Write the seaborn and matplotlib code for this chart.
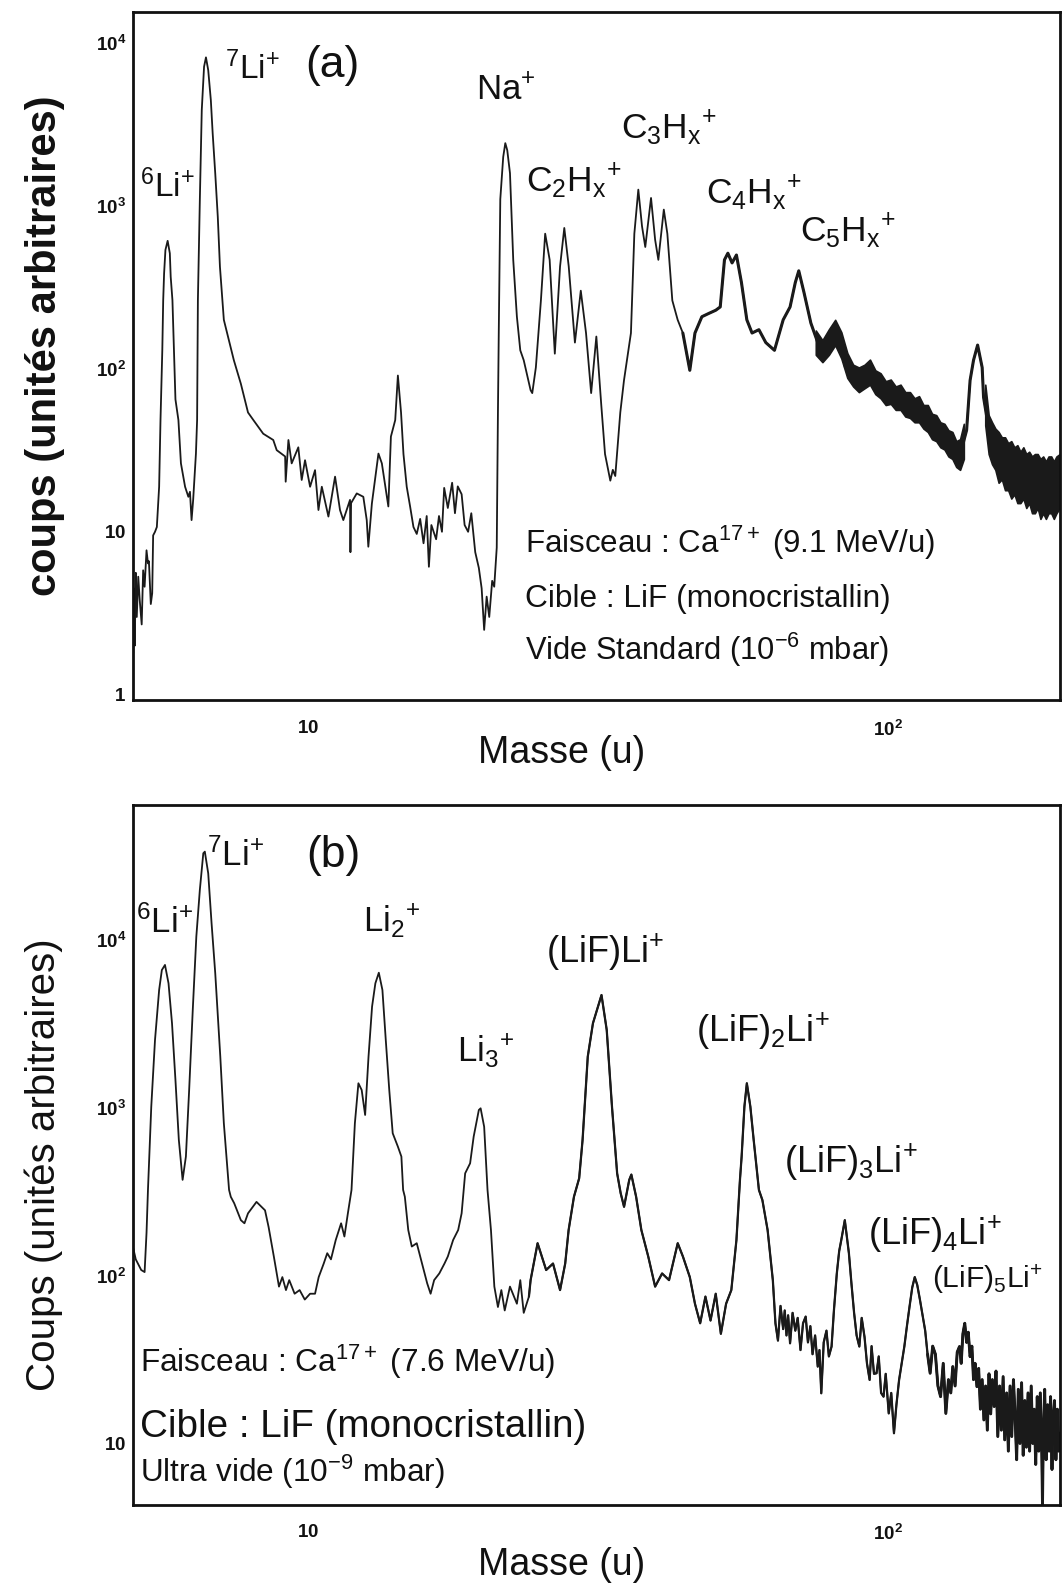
import numpy as np
import pandas as pd
import matplotlib
matplotlib.use("Agg")
import matplotlib.pyplot as plt
import seaborn as sns
from matplotlib.ticker import LogLocator, NullFormatter

# ---------------- data : panel (a) ----------------
mass_a = [4.99, 5.00, 5.02, 5.04, 5.06, 5.09, 5.12, 5.16, 5.19, 5.22, 5.26, 5.29, 5.31, 5.35, 5.38,
          5.40, 5.44, 5.48, 5.53, 5.56, 5.60, 5.62, 5.64, 5.67, 5.72, 5.77, 5.79, 5.83, 5.90, 5.97,
          6.03, 6.13, 6.21, 6.25, 6.29, 6.33, 6.40, 6.43, 6.45, 6.50, 6.55, 6.61, 6.66, 6.72, 6.79,
          6.84, 6.91, 6.98, 7.04, 7.11, 7.15, 7.44, 7.65, 7.87, 8.04, 8.36, 8.70, 8.82, 9.12, 9.14,
          9.24, 9.36, 9.61, 9.74, 9.87, 10.07, 10.27, 10.41, 10.55, 10.83, 11.12, 11.34, 11.49, 11.80,
          11.82, 11.85, 12.12, 12.44, 12.61, 12.69, 12.87, 13.03, 13.21, 13.39, 13.66, 13.74, 13.88,
          14.12, 14.27, 14.45, 14.59, 14.78, 14.98, 15.18, 15.38, 15.59, 15.8, 16.0, 16.14, 16.3,
          16.61, 16.8, 17.0, 17.15, 17.4, 17.7, 17.9, 18.1, 18.38, 18.6, 18.86, 19.1, 19.4, 19.68,
          19.9, 20.1, 20.3, 20.51, 20.75, 20.92, 21.13, 21.23, 21.30, 21.43, 21.68, 21.86, 22.03,
          22.27, 22.43, 22.56, 22.89, 23.20, 23.52, 24.17, 24.33, 24.68, 25.18, 25.61, 26.07, 26.61,
          27.17, 27.63, 28.12, 28.82, 29.50, 30.12, 30.74, 31.38, 32.0, 32.48, 33.17, 33.5, 33.83,
          34.51, 35.02, 36.0, 36.49, 37.07, 37.62, 38.11, 38.99, 39.63, 40.14, 41.02, 41.60, 42.43,
          43.34, 44.24, 45.48, 46.42, 47.71, 49.04, 50.41, 51.32, 52.19, 52.90, 53.79, 54.73, 55.83,
          57.04, 58.23, 59.84, 61.50, 63.65, 65.89, 67.72, 69.14, 70.10, 71.56, 73.55, 75.59, 78.25,
          81.0, 82.67, 84.4, 87.9, 92.8, 98.2, 102.3, 105.0, 114.2, 120.6, 127.4, 132.8, 136.5,
          138.4, 140.3, 142.6, 145.2, 146.0, 150.2, 158.8, 169.9, 182.1, 197.6]
counts_a = [1.8, 4.5, 2.0, 5.6, 3.0, 5.3, 3.8, 2.7, 5.8, 4.6, 7.7, 6.4, 6.6, 3.6, 4.2,
            9.5, 10.0, 10.7, 18.9, 48.5, 130, 264, 385, 537, 611, 512, 367, 264, 65, 48.5,
            26.3, 18.9, 16.4, 17.6, 11.8, 15.7, 30.2, 48.5, 264, 1087, 3880, 7160, 8170, 6820, 4470,
            2790, 1585, 859, 424, 264, 200, 113, 81, 54, 48.5, 40, 36.6, 31.7, 29, 20.3,
            36.6, 26.3, 33, 20.8, 27.5, 18.9, 23.9, 13.6, 18.9, 12.4, 21.8, 13.6, 11.8, 15.7,
            7.5, 15.0, 17.2, 16.4, 11.8, 8.1, 14.9, 20.8, 30.2, 26.3, 16.4, 14.3, 38.4,
            48.5, 91, 54, 30, 18.9, 14.3, 10.7, 9.7, 12, 8.5, 12.5, 6.1, 11,
            9, 12.5, 10, 18.6, 14, 20, 13, 19, 17, 11, 10, 13, 7.5, 6,
            4.5, 2.5, 4.0, 3.0, 5, 4.6, 8, 54, 166, 1100, 2000, 2430, 2200,
            1590, 800, 467, 209, 130, 113, 74, 71, 102, 263, 676, 467, 124,
            426, 733, 426, 145, 302, 166, 71, 158, 60, 30, 20.6, 24, 22,
            54, 85, 166, 676, 1260, 750, 560, 1120, 620, 467, 950, 676, 263,
            200, 166, 98, 166, 209, 219, 229, 240, 467, 513, 447, 500, 339,
            200, 166, 174, 145, 130, 200, 240, 339, 400, 295, 191, 145, 126,
            166, 145, 102, 89, 93, 76, 71, 65, 54, 42, 36, 29, 42,
            85, 113, 140, 102, 67, 36, 26, 23, 18.6, 20]

noise_a1_mass = [75, 77, 79, 81, 83, 85, 87, 89, 91, 93, 95, 97, 99, 101, 103, 105, 107, 109, 111,
                 113, 115, 117, 119, 121, 123, 125, 127, 129, 131, 133, 135]
noise_a1_low = [122, 110, 122, 140, 116, 88, 78, 72, 76, 80, 70, 66, 60, 61, 56, 56, 51, 50, 47,
                47, 43, 41, 37, 36, 33, 32, 29, 28, 25, 24, 28]
noise_a1_high = [172, 150, 175, 200, 168, 125, 106, 102, 106, 114, 98, 94, 84, 86, 78, 80, 72, 72,
                 66, 68, 60, 60, 53, 52, 47, 46, 42, 41, 36, 37, 46]
noise_a2_mass = [147, 149, 151, 153, 155, 157, 159, 161, 163, 165, 167, 169, 171, 173, 175, 177,
                 179, 181, 183, 185, 187, 189, 191, 193, 195, 197.6]
noise_a2_low = [45, 30, 26, 24, 20, 21, 18, 18, 16, 17, 15, 15, 16, 14, 15, 13, 13, 14, 12, 13,
                12, 13, 13, 12, 13, 14]
noise_a2_high = [80, 52, 47, 43, 41, 38, 38, 35, 36, 33, 34, 31, 33, 30, 31, 29, 30, 30, 28, 29,
                 27, 29, 29, 27, 29, 30]

# ---------------- data : panel (b) ----------------
mass_b = [4.98, 5.04, 5.15, 5.22, 5.26, 5.29, 5.36, 5.44, 5.53, 5.59, 5.66, 5.74, 5.82, 5.90, 5.98,
          6.07, 6.15, 6.23, 6.32, 6.41, 6.50, 6.59, 6.63, 6.72, 6.81, 6.91, 7.05, 7.15, 7.30, 7.35,
          7.45, 7.65, 7.76, 7.87, 8.14, 8.42, 8.54, 8.72, 8.90, 9.02, 9.15, 9.27, 9.47, 9.66, 9.86,
          10.07, 10.27, 10.42, 10.63, 10.78, 10.94, 11.15, 11.39, 11.54, 11.70, 11.87, 12.03, 12.20,
          12.36, 12.53, 12.70, 12.88, 13.05, 13.23, 13.42, 13.60, 13.79, 13.98, 14.27, 14.47, 14.57,
          14.67, 14.87, 15.08, 15.38, 15.71, 16.03, 16.25, 16.48, 16.82, 17.17, 17.40, 17.77, 18.13,
          18.38, 18.64, 19.01, 19.28, 19.68, 19.82, 20.10, 20.37, 20.65, 20.93, 21.23, 21.52, 21.81,
          22.27, 22.89, 23.20, 23.52, 24.01, 24.17, 24.85, 25.71, 26.42, 27.17, 27.73, 28.11, 28.71,
          29.31, 29.71, 30.33, 30.96, 32.03, 32.70, 33.39, 34.08, 34.56, 35.03, 35.76, 36.06, 36.75,
          37.52, 38.56, 39.63, 40.74, 41.88, 43.35, 44.25, 45.48, 46.42, 47.39, 48.39, 49.38, 50.41,
          51.45, 52.53, 53.63, 54.73, 55.50, 55.87, 56.49, 57.04, 57.84, 58.61, 59.84, 60.67, 61.94,
          63.24, 63.9, 64.54, 65.2, 65.89, 66.3, 66.76, 67.2, 67.72, 68.4, 69.14, 69.8, 70.58, 71.3,
          72.05, 72.7, 73.4, 74.04, 74.8, 75.59, 76.1, 76.65, 77.4, 78.25, 79.0, 79.85, 80.6, 81.53,
          82.3, 82.99, 84.16, 85.54, 86.4, 87.32, 88.2, 89.15, 90.0, 91.02, 91.9, 92.88, 93.6, 94.5,
          95.45, 96.3, 97.2, 98.15, 99.0, 100.2, 101.2, 102.3, 103.3, 104.4, 105.5, 106.6, 107.7,
          108.8, 110.0, 111.1, 112.2, 113.4, 114.6, 115.8, 116.9, 118.1, 119.3, 120.6, 121.8, 123.1,
          124.4, 125.7, 127.0, 128.2, 129.2, 130.4, 131.5, 132.7, 133.6, 134.5, 135.5, 136.5, 137.4,
          138.4, 139.4, 140.3, 141.2, 142.2, 143.2, 144.2, 145.2, 146.2, 147.2, 148.2, 149.2, 150.2,
          151.2, 152.3, 153.4, 154.5, 155.6, 156.7, 157.8, 158.8, 160.0, 161.1, 162.2, 163.3, 164.4,
          165.4, 166.5, 167.6, 168.7, 169.8, 170.9, 172.0, 173.1, 174.2, 175.3, 176.4, 177.5, 178.5,
          179.6, 180.7, 181.8, 182.9, 184.0, 184.5, 185.0, 186.1, 187.2, 188.3, 189.4, 190.5, 191.6,
          192.4, 193.5, 194.6, 195.7, 196.8, 197.6]
counts_b = [150, 125, 108, 105, 180, 324, 1016, 2535, 5035, 6620, 7100, 5520, 3190, 1465, 643,
            372, 512, 1276, 3830, 10470, 19870, 32850, 33600, 24950, 12580, 6340, 2020, 809, 324, 295,
            270, 214, 205, 235, 275, 245, 195, 130, 86, 98, 82, 94, 78, 82, 72,
            78, 78, 98, 118, 136, 125, 163, 205, 171, 235, 324, 809, 1400,
            1276, 906, 2020, 4010, 5520, 6380, 5035, 2535, 1276, 705, 587, 512, 324,
            295, 187, 149, 156, 118, 90, 78, 94, 103, 118, 130, 163, 187,
            235, 407, 467, 673, 970, 993, 771, 324, 187, 86, 65, 82, 62,
            86, 68, 94, 60, 75, 94, 156, 108, 118, 82, 118, 187, 295,
            380, 643, 2020, 3190, 4700, 2910, 1016, 407, 310, 257, 372, 400, 295,
            187, 130, 86, 103, 94, 156, 130, 98, 68, 52, 75, 54, 78,
            45, 68, 82, 163, 372, 512, 1016, 1400, 1016, 643, 324, 282, 187,
            94, 52, 41, 66, 48, 62, 44, 58, 39.5, 60, 47, 56, 36, 52,
            57, 40, 50, 34, 44, 28.7, 36, 19.9, 40, 47, 33, 37.8, 62, 103,
            140, 163, 214, 136, 90, 60, 44, 37.8, 56, 43, 30, 23.9, 38, 26,
            26.2, 33, 20, 19, 26, 15.1, 20, 11.5, 17, 23.9, 30, 37.8, 50,
            65, 85, 98, 88, 72, 58, 47, 34, 26.2, 38, 34, 22, 19,
            30, 15.1, 24, 20, 28.7, 22, 35, 37.8, 30, 45, 52, 40, 46,
            32.9, 38, 24, 30, 21.8, 28, 16, 24, 13.8, 22, 12, 26, 15,
            24, 16.6, 27, 11, 22, 12, 25, 10.5, 20, 9, 22, 11, 24,
            15.1, 8, 21, 10, 23, 8.5, 18, 9.5, 20, 9, 22, 10, 16,
            7.5, 19, 9, 20, 8.7, 4.3, 10, 21, 8, 17, 9, 19, 7,
            13.8, 18, 8, 16, 9, 11.5]

x_ticks = [10, 100]
x_tick_labels = [r"$\mathbf{10}$", r"$\mathbf{10^{2}}$"]
y_ticks_a = [1, 10, 100, 1000, 10000]
y_tick_labels_a = [r"$\mathbf{1}$", r"$\mathbf{10}$", r"$\mathbf{10^{2}}$", r"$\mathbf{10^{3}}$", r"$\mathbf{10^{4}}$"]
y_ticks_b = [10, 100, 1000, 10000]
y_tick_labels_b = [r"$\mathbf{10}$", r"$\mathbf{10^{2}}$", r"$\mathbf{10^{3}}$", r"$\mathbf{10^{4}}$"]

# ---------------- style ----------------
sns.set_theme(style="white")
plt.rcParams['font.family'] = ['Liberation Sans', 'DejaVu Sans']
plt.rcParams['mathtext.fontset'] = 'custom'
plt.rcParams['mathtext.rm'] = 'Liberation Sans'
plt.rcParams['mathtext.it'] = 'Liberation Sans:italic'
plt.rcParams['mathtext.bf'] = 'Liberation Sans:bold'
plt.rcParams['mathtext.sf'] = 'Liberation Sans'

LINE = '#1a1a1a'

fig = plt.figure(figsize=(10.62, 15.86), dpi=100)
ax_a = fig.add_axes([0.125, 0.5586, 0.8729, 0.4338])
ax_b = fig.add_axes([0.125, 0.0511, 0.8729, 0.4414])


def draw(ax, mass, counts, widths, bands, xlim, ylim, yticks, ylabels):
    ax.set_xscale('log')
    ax.set_yscale('log')
    df = pd.DataFrame({'m': mass, 'c': counts})
    sns.lineplot(data=df, x='m', y='c', ax=ax, color=LINE, lw=1.3, sort=False, estimator=None)
    for start, lw in widths:
        part = df[df['m'] >= start]
        sns.lineplot(data=part, x='m', y='c', ax=ax, color=LINE, lw=lw, sort=False, estimator=None)
    for bm, blo, bhi in bands:
        ax.fill_between(bm, blo, bhi, color=LINE, lw=1.2)
    ax.set_xlim(*xlim)
    ax.set_ylim(*ylim)
    ax.set_xlabel('')
    ax.set_ylabel('')
    ax.set_xticks(x_ticks, labels=x_tick_labels)
    ax.set_yticks(yticks, labels=ylabels)
    ax.xaxis.set_minor_locator(LogLocator(base=10, subs=np.arange(2, 10)))
    ax.yaxis.set_minor_locator(LogLocator(base=10, subs=np.arange(2, 10)))
    ax.xaxis.set_minor_formatter(NullFormatter())
    ax.yaxis.set_minor_formatter(NullFormatter())
    ax.tick_params(which='major', direction='in', length=8, width=1.6, labelsize=13.5,
                   colors='#111111', top=False, right=False)
    ax.tick_params(which='minor', direction='in', length=4.5, width=1.2, top=False, right=False)
    ax.tick_params(axis='x', which='major', pad=14)
    ax.tick_params(axis='y', which='major', pad=5)
    for s in ax.spines.values():
        s.set_linewidth(2.0)
        s.set_color('#111111')


draw(ax_a, mass_a, counts_a, [(44, 2.2)],
     [(noise_a1_mass, noise_a1_low, noise_a1_high), (noise_a2_mass, noise_a2_low, noise_a2_high)],
     (4.98, 197.6), (0.927, 15500), y_ticks_a, y_tick_labels_a)
draw(ax_b, mass_b, counts_b, [(24, 1.6), (116, 2.1)], [],
     (4.98, 197.6), (4.3, 63800), y_ticks_b, y_tick_labels_b)

# ---------------- annotations ----------------
def lab(ax, x, y, s, size=24):
    ax.text(x, y, s, transform=ax.transAxes, fontsize=size, ha='left', va='baseline', color='#111111')

lab(ax_a, 0.008, 0.731, r"$\mathregular{{}^{6}Li^{+}}$")
lab(ax_a, 0.100, 0.902, r"$\mathregular{{}^{7}Li^{+}}$")
lab(ax_a, 0.1859, 0.905, "(a)", 32)
lab(ax_a, 0.370, 0.872, r"$\mathregular{Na^{+}}$", 25)
lab(ax_a, 0.424, 0.7388, r"$\mathregular{C_{2}H_{x}{}^{+}}$", 25.5)
lab(ax_a, 0.527, 0.8164, r"$\mathregular{C_{3}H_{x}{}^{+}}$", 25.5)
lab(ax_a, 0.618, 0.722, r"$\mathregular{C_{4}H_{x}{}^{+}}$", 25.5)
lab(ax_a, 0.720, 0.6661, r"$\mathregular{C_{5}H_{x}{}^{+}}$", 25.5)
lab(ax_a, 0.4232, 0.2132, r"Faisceau : Ca$^{17+}$ (9.1 MeV/u)", 22.5)
lab(ax_a, 0.4232, 0.1356, "Cible : LiF (monocristallin)", 22.8)
lab(ax_a, 0.4232, 0.0581, r"Vide Standard (10$^{-6}$ mbar)", 22.2)

lab(ax_b, 0.1871, 0.9119, "(b)", 32)
lab(ax_b, 0.080, 0.9129, r"$\mathregular{{}^{7}Li^{+}}$", 25)
lab(ax_b, 0.004, 0.8167, r"$\mathregular{{}^{6}Li^{+}}$", 25)
lab(ax_b, 0.248, 0.819, r"$\mathregular{Li_{2}{}^{+}}$", 25)
lab(ax_b, 0.350, 0.6333, r"$\mathregular{Li_{3}{}^{+}}$", 25)
lab(ax_b, 0.446, 0.7739, r"$\mathregular{(LiF)Li^{+}}$", 26)
lab(ax_b, 0.608, 0.6619, r"$\mathregular{(LiF)_{2}Li^{+}}$", 26)
lab(ax_b, 0.703, 0.4739, r"$\mathregular{(LiF)_{3}Li^{+}}$", 26)
lab(ax_b, 0.793, 0.3714, r"$\mathregular{(LiF)_{4}Li^{+}}$", 26)
lab(ax_b, 0.862, 0.3096, r"$\mathregular{(LiF)_{5}Li^{+}}$", 21.5)
lab(ax_b, 0.0073, 0.1904, r"Faisceau : Ca$^{17+}$ (7.6 MeV/u)", 22.8)
lab(ax_b, 0.0073, 0.0976, "Cible : LiF (monocristallin)", 27.8)
lab(ax_b, 0.0073, 0.0333, r"Ultra vide (10$^{-9}$ mbar)", 22.7)

fig.text(0.042, 0.7818, "coups (unités arbitraires)", rotation=90, ha='center', va='center',
         fontsize=30, fontweight='bold', color='#111111')
fig.text(0.041, 0.2654, "Coups (unités arbitraires)", rotation=90, ha='center', va='center',
         fontsize=29, color='#111111')
fig.text(0.529, 0.525, "Masse (u)", ha='center', va='center', fontsize=27, color='#111111')
fig.text(0.529, 0.0132, "Masse (u)", ha='center', va='center', fontsize=27, color='#111111')

fig.savefig("out.png", dpi=100, facecolor='white')
